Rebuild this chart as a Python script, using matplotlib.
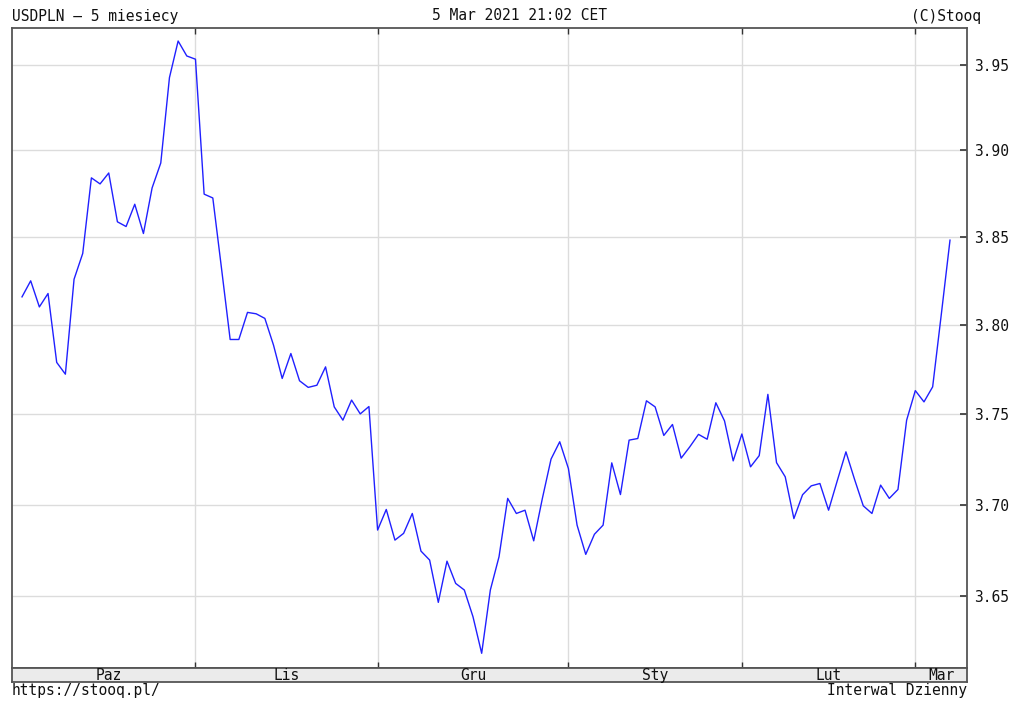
import numpy as np
import pandas as pd
import matplotlib
matplotlib.use("Agg")
import matplotlib.pyplot as plt
from matplotlib.ticker import FixedLocator, NullLocator, FormatStrFormatter

# ---- data ----
title_left = "USDPLN – 5 miesiecy"
title_mid = "5 Mar 2021 21:02 CET"
title_right = "(C)Stooq"
footer_left = "https://stooq.pl/"
footer_right = "Interwal Dzienny"

start_date = "2020-10-05"
end_date = "2021-03-05"
holidays = ["2020-12-25", "2021-01-01"]

month_labels = ["Paz", "Lis", "Gru", "Sty", "Lut", "Mar"]

y_ticks = [3.65, 3.70, 3.75, 3.80, 3.85, 3.90, 3.95]

close = [
    3.8160, 3.8251, 3.8103, 3.8179, 3.7790, 3.7724, 3.8260, 3.8407, 3.8841, 3.8806,
    3.8869, 3.8588, 3.8561, 3.8689, 3.8521, 3.8783, 3.8927, 3.9424, 3.9639, 3.9551,
    3.9532, 3.8747, 3.8725, 3.8323, 3.7919, 3.7919, 3.8072, 3.8064, 3.8038, 3.7887,
    3.7700, 3.7840, 3.7687, 3.7650, 3.7662, 3.7765, 3.7541, 3.7467, 3.7579, 3.7502,
    3.7543, 3.6860, 3.6973, 3.6805, 3.6842, 3.6951, 3.6745, 3.6696, 3.6466, 3.6690,
    3.6569, 3.6533, 3.6388, 3.6191, 3.6533, 3.6714, 3.7034, 3.6951, 3.6969, 3.6801,
    3.7034, 3.7251, 3.7347, 3.7199, 3.6887, 3.6727, 3.6837, 3.6887, 3.7230, 3.7055,
    3.7356, 3.7365, 3.7575, 3.7541, 3.7382, 3.7443, 3.7256, 3.7319, 3.7388, 3.7361,
    3.7564, 3.7463, 3.7241, 3.7390, 3.7208, 3.7270, 3.7611, 3.7231, 3.7153, 3.6923,
    3.7054, 3.7103, 3.7116, 3.6969, 3.7131, 3.7291, 3.7138, 3.6993, 3.6951, 3.7107,
    3.7034, 3.7083, 3.7467, 3.7632, 3.7569, 3.7653, 3.8062, 3.8483,
]

# ---- build trading-day axis ----
dates = pd.bdate_range(start_date, end_date)
dates = dates[~dates.isin(pd.to_datetime(holidays))]
idx = np.arange(len(dates))
months = dates.to_period("M")
month_starts = [i for i in range(1, len(dates)) if months[i] != months[i - 1]]

W, H = 1024, 718
fig = plt.figure(figsize=(W / 100, H / 100), dpi=100)
fig.patch.set_facecolor("white")

L, R, T, B = 12.3, 967.0, 28.3, 668.0
band_b = 681.7
ax = fig.add_axes([L / W, 1 - B / H, (R - L) / W, (B - T) / H])

spine_c = "#555555"
grid_c = "#dcdcdc"
mono = "DejaVu Sans Mono"

ax.set_yscale("log")
ax.set_xlim(-1.12, 108.96)
ax.set_ylim(3.6112, 3.9714)

ax.plot(idx, close, color="#2020ff", lw=1.0, zorder=3)

# grid
for yv in y_ticks:
    ax.axhline(yv, color=grid_c, lw=1.0, zorder=1)
for m in month_starts:
    ax.axvline(m, color=grid_c, lw=1.0, zorder=1)

ax.yaxis.tick_right()
ax.yaxis.set_major_locator(FixedLocator(y_ticks))
ax.yaxis.set_minor_locator(NullLocator())
ax.yaxis.set_major_formatter(FormatStrFormatter("%.2f"))
ax.tick_params(axis="y", which="major", direction="in", length=5, width=1.2,
               color="#333333", pad=5, labelsize=10.5, labelcolor="#111111",
               right=True, left=False)
for lab in ax.get_yticklabels():
    lab.set_fontfamily(mono)

ax.xaxis.set_major_locator(FixedLocator(month_starts))
ax.tick_params(axis="x", which="major", direction="in", length=4, width=1.0,
               color="#333333", top=True, bottom=True,
               labelbottom=False, labeltop=False)

for s in ax.spines.values():
    s.set_color(spine_c)
    s.set_linewidth(1.3)

# month band
bx = fig.add_axes([L / W, 1 - band_b / H, (R - L) / W, (band_b - B) / H])
bx.set_facecolor("#ebebeb")
bx.set_xlim(ax.get_xlim())
bx.set_ylim(0, 1)
bx.set_xticks([])
bx.set_yticks([])
for s in bx.spines.values():
    s.set_color(spine_c)
    s.set_linewidth(1.3)
bounds = [0] + month_starts + [ax.get_xlim()[1]]
for i, lab in enumerate(month_labels):
    c = (bounds[i] + bounds[i + 1]) / 2
    bx.text(c, 0.45, lab, ha="center", va="center", fontsize=10.5,
            family=mono, color="#111111")

# header / footer texts
fig.text(12 / W, 1 - 16 / H, title_left, ha="left", va="center",
         fontsize=10.5, family=mono, color="#111111")
fig.text(519 / W, 1 - 16 / H, title_mid, ha="center", va="center",
         fontsize=10.5, family=mono, color="#111111")
fig.text(981 / W, 1 - 16 / H, title_right, ha="right", va="center",
         fontsize=10.5, family=mono, color="#111111")
fig.text(12 / W, 1 - 691 / H, footer_left, ha="left", va="center",
         fontsize=10.5, family=mono, color="#111111")
fig.text(967 / W, 1 - 691 / H, footer_right, ha="right", va="center",
         fontsize=10.5, family=mono, color="#111111")

fig.savefig("out.png", dpi=100)
